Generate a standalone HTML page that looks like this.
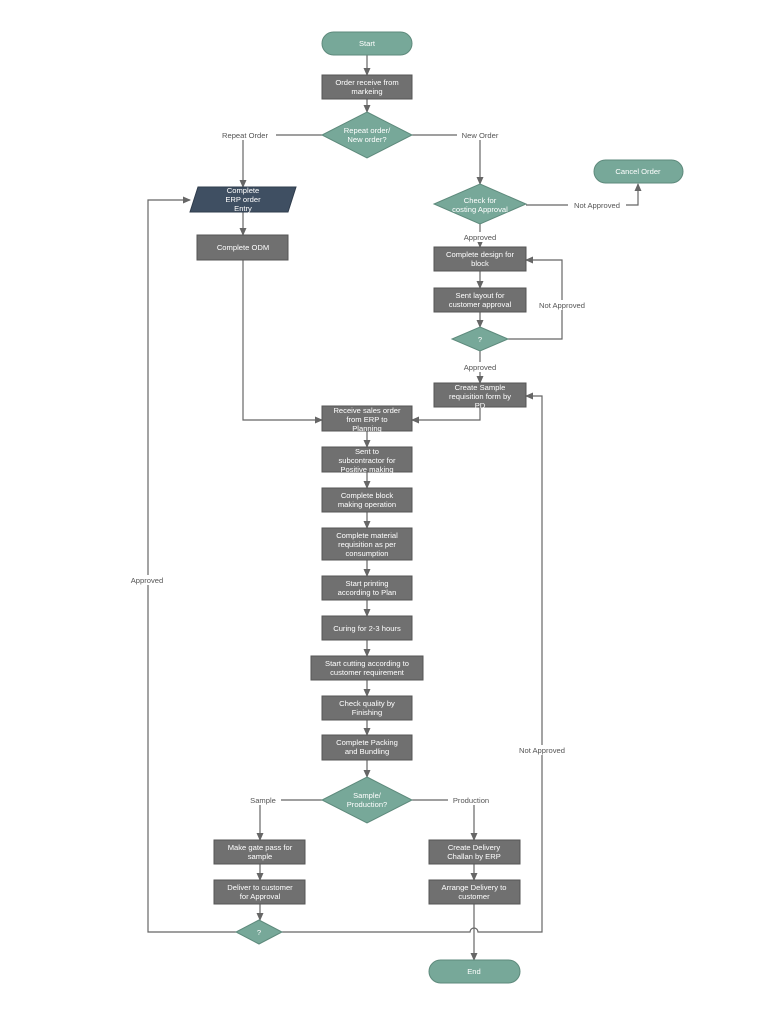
<!DOCTYPE html>
<html><head><meta charset="utf-8"><style>
html,body{margin:0;padding:0;background:#fff;}
svg{display:block;}
text{font-family:"Liberation Sans",sans-serif;font-size:7.6px;text-anchor:middle;}
.w{fill:#fff;}
.l{fill:#555;}
.b{fill:#707070;stroke:#555;stroke-width:1;}
.t{fill:#77a899;stroke:#5e8a7c;stroke-width:1;}
.c{stroke:#666;stroke-width:1.2;fill:none;}
.lb{fill:#fff;}
</style></head><body>
<svg width="768" height="1024" viewBox="0 0 768 1024">
<defs><marker id="a" markerWidth="8" markerHeight="8" refX="7" refY="4" orient="auto" markerUnits="userSpaceOnUse"><path d="M0,0.5 L8,4 L0,7.5z" fill="#666"/></marker></defs>

<!-- connectors -->
<path class="c" d="M367,55V75" marker-end="url(#a)"/>
<path class="c" d="M367,99V112" marker-end="url(#a)"/>
<path class="c" d="M322,135H243V187" marker-end="url(#a)"/>
<path class="c" d="M412,135H480V184" marker-end="url(#a)"/>
<path class="c" d="M243,212V235" marker-end="url(#a)"/>
<path class="c" d="M243,260V420H322" marker-end="url(#a)"/>
<path class="c" d="M526,205H638V184" marker-end="url(#a)"/>
<path class="c" d="M480,224V247" marker-end="url(#a)"/>
<path class="c" d="M480,271V288" marker-end="url(#a)"/>
<path class="c" d="M480,312V327" marker-end="url(#a)"/>
<path class="c" d="M508,339H562V260H526" marker-end="url(#a)"/>
<path class="c" d="M480,351V383" marker-end="url(#a)"/>
<path class="c" d="M480,407V420H412" marker-end="url(#a)"/>
<path class="c" d="M367,431V447" marker-end="url(#a)"/>
<path class="c" d="M367,472V488" marker-end="url(#a)"/>
<path class="c" d="M367,512V528" marker-end="url(#a)"/>
<path class="c" d="M367,560V576" marker-end="url(#a)"/>
<path class="c" d="M367,600V616" marker-end="url(#a)"/>
<path class="c" d="M367,640V656" marker-end="url(#a)"/>
<path class="c" d="M367,680V696" marker-end="url(#a)"/>
<path class="c" d="M367,720V735" marker-end="url(#a)"/>
<path class="c" d="M367,760V777" marker-end="url(#a)"/>
<path class="c" d="M322,800H260V840" marker-end="url(#a)"/>
<path class="c" d="M412,800H474V840" marker-end="url(#a)"/>
<path class="c" d="M260,864V880" marker-end="url(#a)"/>
<path class="c" d="M474,864V880" marker-end="url(#a)"/>
<path class="c" d="M260,904V920" marker-end="url(#a)"/>
<path class="c" d="M474,904V960" marker-end="url(#a)"/>
<path class="c" d="M236,932H148V200H190" marker-end="url(#a)"/>
<path class="c" d="M282,932H470A4,4 0 0 1 478,932H542V396H526" marker-end="url(#a)"/>

<!-- connector labels -->
<rect class="lb" x="214" y="130" width="62" height="10"/><text class="l" x="245" y="138">Repeat Order</text>
<rect class="lb" x="457" y="130" width="46" height="10"/><text class="l" x="480" y="138">New Order</text>
<rect class="lb" x="568" y="200" width="58" height="10"/><text class="l" x="597" y="208">Not Approved</text>
<rect class="lb" x="458" y="232" width="44" height="10"/><text class="l" x="480" y="240">Approved</text>
<rect class="lb" x="533" y="300" width="58" height="10"/><text class="l" x="562" y="308">Not Approved</text>
<rect class="lb" x="458" y="362" width="44" height="10"/><text class="l" x="480" y="370">Approved</text>
<rect class="lb" x="125" y="575" width="44" height="10"/><text class="l" x="147" y="583">Approved</text>
<rect class="lb" x="513" y="745" width="58" height="10"/><text class="l" x="542" y="753">Not Approved</text>
<rect class="lb" x="245" y="795" width="36" height="10"/><text class="l" x="263" y="803">Sample</text>
<rect class="lb" x="448" y="795" width="48" height="10"/><text class="l" x="471" y="803">Production</text>

<!-- nodes -->
<rect class="t" x="322" y="32" width="90" height="23" rx="11.5"/><text class="w" x="367" y="46">Start</text>
<rect class="b" x="322" y="75" width="90" height="24"/><text class="w" x="367" y="85">Order receive from</text><text class="w" x="367" y="94">markeing</text>
<polygon class="t" points="367,112 412,135 367,158 322,135"/><text class="w" x="367" y="133">Repeat order/</text><text class="w" x="367" y="142">New order?</text>
<polygon fill="#3f4f62" stroke="#2f3c4c" points="198,187 296,187 288,212 190,212"/><text class="w" x="243" y="193">Complete</text><text class="w" x="243" y="202">ERP order</text><text class="w" x="243" y="211">Entry</text>
<rect class="b" x="197" y="235" width="91" height="25"/><text class="w" x="243" y="250">Complete ODM</text>
<polygon class="t" points="480,184 526,204 480,224 434,204"/><text class="w" x="480" y="203">Check for</text><text class="w" x="480" y="212">costing Approval</text>
<rect class="t" x="594" y="160" width="89" height="23" rx="11.5"/><text class="w" x="638" y="174">Cancel Order</text>
<rect class="b" x="434" y="247" width="92" height="24"/><text class="w" x="480" y="257">Complete design for</text><text class="w" x="480" y="266">block</text>
<rect class="b" x="434" y="288" width="92" height="24"/><text class="w" x="480" y="298">Sent layout for</text><text class="w" x="480" y="307">customer approval</text>
<polygon class="t" points="480,327 508,339 480,351 452,339"/><text class="w" x="480" y="342">?</text>
<rect class="b" x="434" y="383" width="92" height="24"/><text class="w" x="480" y="390">Create Sample</text><text class="w" x="480" y="399">requisition form by</text><text class="w" x="480" y="408">PD</text>
<rect class="b" x="322" y="406" width="90" height="25"/><text class="w" x="367" y="413">Receive sales order</text><text class="w" x="367" y="422">from ERP to</text><text class="w" x="367" y="431">Planning</text>
<rect class="b" x="322" y="447" width="90" height="25"/><text class="w" x="367" y="454">Sent to</text><text class="w" x="367" y="463">subcontractor for</text><text class="w" x="367" y="472">Positive making</text>
<rect class="b" x="322" y="488" width="90" height="24"/><text class="w" x="367" y="498">Complete block</text><text class="w" x="367" y="507">making operation</text>
<rect class="b" x="322" y="528" width="90" height="32"/><text class="w" x="367" y="538">Complete material</text><text class="w" x="367" y="547">requisition as per</text><text class="w" x="367" y="556">consumption</text>
<rect class="b" x="322" y="576" width="90" height="24"/><text class="w" x="367" y="586">Start printing</text><text class="w" x="367" y="595">according to Plan</text>
<rect class="b" x="322" y="616" width="90" height="24"/><text class="w" x="367" y="631">Curing for 2-3 hours</text>
<rect class="b" x="311" y="656" width="112" height="24"/><text class="w" x="367" y="666">Start cutting according to</text><text class="w" x="367" y="675">customer requirement</text>
<rect class="b" x="322" y="696" width="90" height="24"/><text class="w" x="367" y="706">Check quality by</text><text class="w" x="367" y="715">Finishing</text>
<rect class="b" x="322" y="735" width="90" height="25"/><text class="w" x="367" y="745">Complete Packing</text><text class="w" x="367" y="754">and Bundling</text>
<polygon class="t" points="367,777 412,800 367,823 322,800"/><text class="w" x="367" y="798">Sample/</text><text class="w" x="367" y="807">Production?</text>
<rect class="b" x="214" y="840" width="91" height="24"/><text class="w" x="260" y="850">Make gate pass for</text><text class="w" x="260" y="859">sample</text>
<rect class="b" x="214" y="880" width="91" height="24"/><text class="w" x="260" y="890">Deliver to customer</text><text class="w" x="260" y="899">for Approval</text>
<polygon class="t" points="259,920 282,932 259,944 236,932"/><text class="w" x="259" y="935">?</text>
<rect class="b" x="429" y="840" width="91" height="24"/><text class="w" x="474" y="850">Create Delivery</text><text class="w" x="474" y="859">Challan by ERP</text>
<rect class="b" x="429" y="880" width="91" height="24"/><text class="w" x="474" y="890">Arrange Delivery to</text><text class="w" x="474" y="899">customer</text>
<rect class="t" x="429" y="960" width="91" height="23" rx="11.5"/><text class="w" x="474" y="974">End</text>
</svg>
</body></html>
